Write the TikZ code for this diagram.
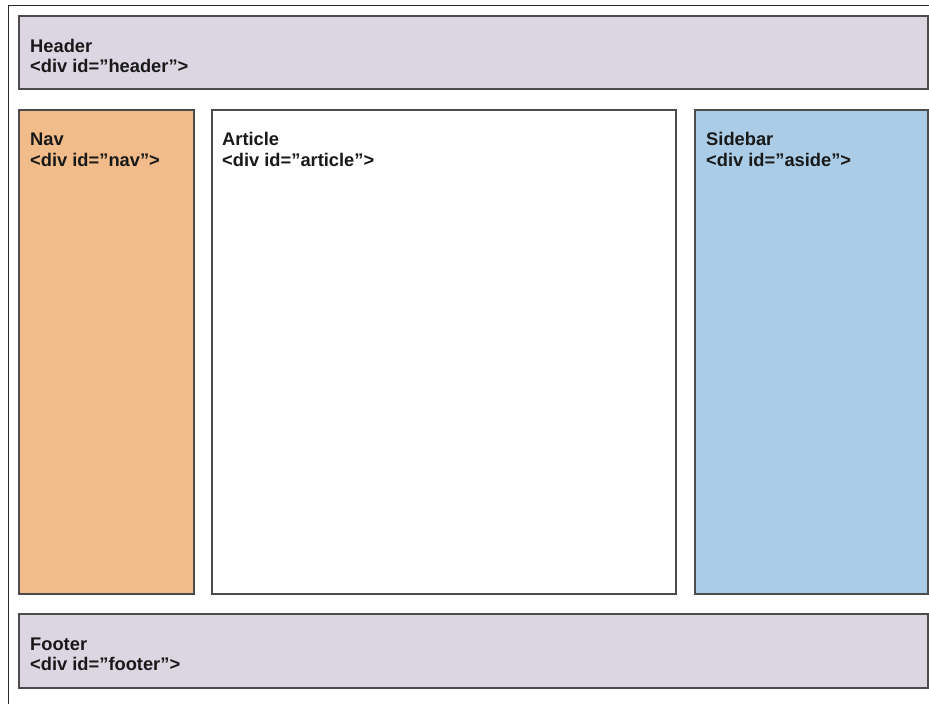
\documentclass[tikz,border=0pt]{standalone}
\usepackage{fontspec}
\setmainfont[Ligatures=ResetAll]{Liberation Sans}
\begin{document}
\begin{tikzpicture}[x=1pt,y=-1pt,
  region/.style={draw=black!70, line width=1.2pt},
  lbl/.style={anchor=base west, inner sep=0pt, font=\fontsize{18.3}{21}\selectfont\bfseries, text=black!90}]
\useasboundingbox (0,0) rectangle (929,704);
\fill[white] (0,0) rectangle (929,704);
\definecolor{hdr}{HTML}{DCD6E2}
\definecolor{navc}{HTML}{F2BB8A}
\definecolor{sidec}{HTML}{AACCE6}
% outer frame
\coordinate (fa) at (8.5,704);
\coordinate (fb) at (8.5,5.5);
\coordinate (fc) at (929,5.5);
\draw[black!85, line width=1.4pt] (fa) -- (fb) -- (fc);
% regions
\draw[region, fill=hdr] (19,16) rectangle (928,89);
\node[lbl] (h1) at (30,52) {Header};
\node[lbl] (h2) at (30,72) {<div id="header">};
\draw[region, fill=navc] (19,110) rectangle (194,594);
\node[lbl] (n1) at (30,145) {Nav};
\node[lbl] (n2) at (30,166) {<div id="nav">};
\draw[region, fill=white] (212,110) rectangle (676,594);
\node[lbl] (a1) at (222,145) {Article};
\node[lbl] (a2) at (222,166) {<div id="article">};
\draw[region, fill=sidec] (695,110) rectangle (928,594);
\node[lbl] (s1) at (706,145) {Sidebar};
\node[lbl] (s2) at (706,166) {<div id="aside">};
\draw[region, fill=hdr] (19,614) rectangle (928,688);
\node[lbl] (f1) at (30,650) {Footer};
\node[lbl] (f2) at (30,670) {<div id="footer">};
\end{tikzpicture}
\end{document}
